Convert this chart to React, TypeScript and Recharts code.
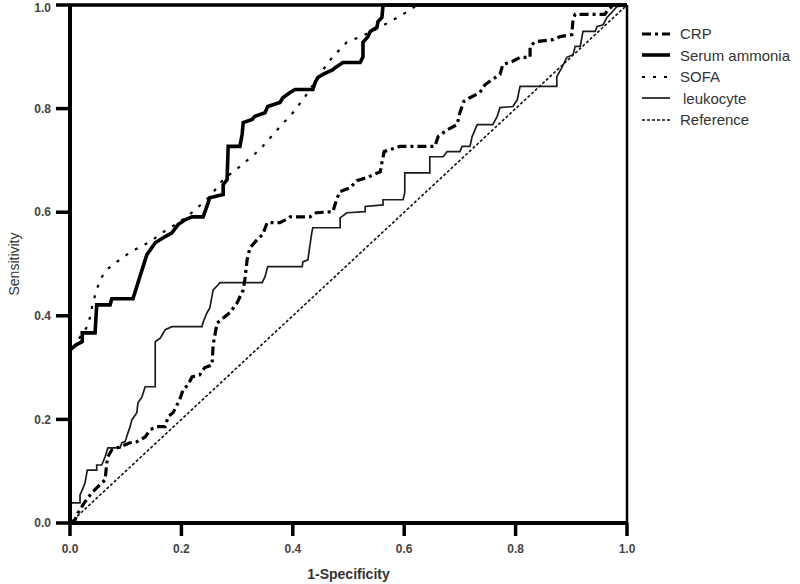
import React from "react";
import {
  LineChart,
  Line,
  XAxis,
  YAxis,
  ReferenceLine,
} from "recharts";

// ROC points: [1-specificity, sensitivity]
const crpPoints: [number, number][] = [
  [0, 0], [0.009, 0.006], [0.014, 0.019], [0.027, 0.041], [0.039, 0.058],
  [0.048, 0.068], [0.057, 0.077], [0.063, 0.083], [0.066, 0.116], [0.068, 0.128],
  [0.075, 0.141], [0.09, 0.147], [0.108, 0.155], [0.12, 0.157], [0.135, 0.166],
  [0.144, 0.18], [0.156, 0.186], [0.171, 0.186], [0.176, 0.205], [0.185, 0.213],
  [0.197, 0.238], [0.203, 0.257], [0.212, 0.267], [0.219, 0.282], [0.233, 0.286],
  [0.242, 0.3], [0.255, 0.305], [0.257, 0.344], [0.264, 0.386], [0.287, 0.406],
  [0.3, 0.425], [0.311, 0.45], [0.314, 0.47], [0.318, 0.508], [0.323, 0.531],
  [0.336, 0.547], [0.346, 0.557], [0.354, 0.58], [0.377, 0.58], [0.39, 0.587],
  [0.395, 0.591], [0.431, 0.591], [0.442, 0.599], [0.472, 0.601], [0.479, 0.626],
  [0.485, 0.64], [0.503, 0.647], [0.515, 0.661], [0.533, 0.667], [0.557, 0.678],
  [0.56, 0.696], [0.564, 0.717], [0.592, 0.727], [0.655, 0.727], [0.661, 0.746],
  [0.677, 0.759], [0.695, 0.769], [0.7, 0.792], [0.707, 0.814], [0.718, 0.821],
  [0.736, 0.831], [0.745, 0.846], [0.758, 0.856], [0.772, 0.866], [0.777, 0.885],
  [0.794, 0.891], [0.808, 0.899], [0.826, 0.899], [0.826, 0.92], [0.835, 0.929],
  [0.867, 0.933], [0.88, 0.939], [0.901, 0.943], [0.903, 0.972], [0.907, 0.982],
  [0.96, 0.982], [0.966, 0.991], [0.973, 0.997], [0.984, 1], [1, 1],
];

const ammoniaPoints: [number, number][] = [
  [0, 0], [0, 0.334], [0.011, 0.344], [0.022, 0.35], [0.022, 0.367], [0.045, 0.367],
  [0.048, 0.421], [0.072, 0.421], [0.075, 0.433], [0.113, 0.433], [0.135, 0.508],
  [0.138, 0.518], [0.153, 0.541], [0.171, 0.553], [0.183, 0.56], [0.194, 0.576],
  [0.206, 0.585], [0.219, 0.591], [0.239, 0.591], [0.248, 0.618], [0.251, 0.628],
  [0.275, 0.634], [0.275, 0.653], [0.282, 0.663], [0.284, 0.727], [0.305, 0.727],
  [0.309, 0.75], [0.311, 0.773], [0.327, 0.779], [0.332, 0.785], [0.35, 0.792],
  [0.355, 0.804], [0.377, 0.812], [0.382, 0.821], [0.395, 0.831], [0.404, 0.837],
  [0.436, 0.837], [0.44, 0.85], [0.445, 0.86], [0.454, 0.866], [0.472, 0.875],
  [0.476, 0.879], [0.49, 0.889], [0.521, 0.889], [0.526, 0.9], [0.526, 0.928],
  [0.535, 0.939], [0.539, 0.949], [0.551, 0.957], [0.553, 0.968], [0.56, 0.976],
  [0.562, 1], [1, 1],
];

const sofaPoints: [number, number][] = [
  [0, 0], [0, 0.33], [0.011, 0.348], [0.018, 0.359], [0.031, 0.379], [0.036, 0.398],
  [0.041, 0.425], [0.048, 0.45], [0.054, 0.47], [0.066, 0.489], [0.084, 0.504],
  [0.102, 0.518], [0.122, 0.531], [0.144, 0.543], [0.165, 0.56], [0.183, 0.572],
  [0.21, 0.591], [0.251, 0.63], [0.275, 0.663], [0.305, 0.688], [0.341, 0.721],
  [0.377, 0.765], [0.4, 0.792], [0.418, 0.817], [0.443, 0.856], [0.463, 0.889],
  [0.479, 0.908], [0.497, 0.928], [0.517, 0.937], [0.542, 0.949], [0.575, 0.968],
  [0.598, 0.982], [0.623, 1], [1, 1],
];

const leukocytePoints: [number, number][] = [
  [0, 0], [0, 0.039], [0.018, 0.039], [0.018, 0.054], [0.022, 0.064], [0.027, 0.077],
  [0.031, 0.102], [0.048, 0.102], [0.048, 0.112], [0.057, 0.112], [0.063, 0.128],
  [0.068, 0.145], [0.09, 0.145], [0.093, 0.155], [0.099, 0.157], [0.104, 0.174],
  [0.108, 0.186], [0.111, 0.199], [0.12, 0.213], [0.122, 0.232], [0.129, 0.243],
  [0.135, 0.263], [0.153, 0.263], [0.153, 0.35], [0.162, 0.357], [0.171, 0.373],
  [0.183, 0.379], [0.237, 0.379], [0.239, 0.388], [0.246, 0.406], [0.251, 0.415],
  [0.257, 0.45], [0.266, 0.46], [0.269, 0.464], [0.345, 0.464], [0.35, 0.475],
  [0.355, 0.495], [0.417, 0.495], [0.418, 0.504], [0.427, 0.508], [0.434, 0.56],
  [0.436, 0.57], [0.485, 0.57], [0.485, 0.589], [0.497, 0.599], [0.53, 0.601],
  [0.53, 0.611], [0.562, 0.614], [0.562, 0.624], [0.598, 0.624], [0.601, 0.638],
  [0.601, 0.676], [0.646, 0.676], [0.646, 0.707], [0.67, 0.707], [0.677, 0.717],
  [0.7, 0.717], [0.704, 0.727], [0.718, 0.727], [0.722, 0.746], [0.731, 0.769],
  [0.759, 0.769], [0.767, 0.785], [0.772, 0.802], [0.795, 0.804], [0.803, 0.817],
  [0.808, 0.843], [0.874, 0.843], [0.874, 0.862], [0.883, 0.879], [0.892, 0.899],
  [0.903, 0.904], [0.907, 0.92], [0.916, 0.92], [0.921, 0.949], [0.943, 0.949],
  [0.946, 0.958], [0.957, 0.962], [0.964, 0.976], [0.973, 0.986], [0.982, 0.997],
  [1, 1],
];

const referencePoints: [number, number][] = [
  [0, 0],
  [1, 1],
];

const ticks = [0, 0.2, 0.4, 0.6, 0.8, 1.0];

const toData = (pts: [number, number][]) => pts.map(([x, y]) => ({ x, y }));

const series = [
  { name: "Reference", points: referencePoints, stroke: "#111", width: 1.6, dash: "3 2" },
  { name: "leukocyte", points: leukocytePoints, stroke: "#1c1c1c", width: 1.7, dash: undefined },
  { name: "CRP", points: crpPoints, stroke: "#000", width: 3.2, dash: "9 4 3 4" },
  { name: "SOFA", points: sofaPoints, stroke: "#000", width: 2.2, dash: "3 8" },
  { name: "Serum ammonia", points: ammoniaPoints, stroke: "#000", width: 3.6, dash: undefined },
];

const legendOrder = ["CRP", "Serum ammonia", "SOFA", "leukocyte", "Reference"];

const FONT = "'Liberation Sans', Arial, Helvetica, sans-serif";

function YLabel(props: any) {
  const { viewBox } = props;
  const cx = viewBox.x + 14;
  const cy = viewBox.y + viewBox.height / 2;
  return (
    <text
      x={cx}
      y={cy}
      transform={`rotate(-90 ${cx} ${cy})`}
      textAnchor="middle"
      dominantBaseline="central"
      fontFamily={FONT}
      fontSize={14}
      fill="#333"
    >
      Sensitivity
    </text>
  );
}

function ChartLegend() {
  return (
    <div style={{ position: "absolute", left: 640, top: 23, fontFamily: FONT }}>
      {legendOrder.map((name) => {
        const s = series.find((d) => d.name === name)!;
        return (
          <div key={name} style={{ display: "flex", alignItems: "center", height: 21.5 }}>
            <svg width={34} height={12}>
              <line
                x1={2}
                x2={30}
                y1={6}
                y2={6}
                stroke={s.stroke}
                strokeWidth={s.width}
                strokeDasharray={s.dash}
              />
            </svg>
            <span
              style={{
                marginLeft: name === "leukocyte" ? 9 : 6,
                fontSize: 15,
                color: "#333",
                whiteSpace: "nowrap",
              }}
            >
              {name}
            </span>
          </div>
        );
      })}
    </div>
  );
}

export default function App() {
  return (
    <div style={{ position: "absolute", left: 0, top: 0, width: 800, height: 584, background: "#fff" }}>
      <LineChart
        width={800}
        height={584}
        margin={{ top: 5, right: 173, bottom: 0, left: 0 }}
      >
        <XAxis
          type="number"
          dataKey="x"
          domain={[0, 1]}
          ticks={ticks}
          tickFormatter={(v: number) => v.toFixed(1)}
          height={61}
          tickSize={13}
          tickMargin={8}
          axisLine={{ stroke: "#000", strokeWidth: 4 }}
          tickLine={{ stroke: "#000", strokeWidth: 3.5 }}
          tick={{ fill: "#444", fontSize: 12, fontWeight: 700, fontFamily: FONT }}
          label={{
            value: "1-Specificity",
            position: "insideBottom",
            offset: 5,
            fill: "#333",
            fontSize: 14,
            fontWeight: 700,
            fontFamily: FONT,
          }}
          allowDuplicatedCategory={false}
        />
        <YAxis
          type="number"
          dataKey="y"
          domain={[0, 1]}
          ticks={ticks}
          tickFormatter={(v: number) => v.toFixed(1)}
          width={70}
          tickSize={14}
          tickMargin={5}
          axisLine={{ stroke: "#000", strokeWidth: 4 }}
          tickLine={{ stroke: "#000", strokeWidth: 3.5 }}
          tick={{ fill: "#444", fontSize: 12, fontWeight: 700, fontFamily: FONT }}
          label={<YLabel />}
        />
        <ReferenceLine y={1} stroke="#000" strokeWidth={3.5} />
        <ReferenceLine x={1} stroke="#000" strokeWidth={2.5} />
        {series.map((s) => (
          <Line
            key={s.name}
            data={toData(s.points)}
            dataKey="y"
            name={s.name}
            type="linear"
            stroke={s.stroke}
            strokeWidth={s.width}
            strokeDasharray={s.dash}
            dot={false}
            activeDot={false}
            isAnimationActive={false}
          />
        ))}
      </LineChart>
      <ChartLegend />
    </div>
  );
}
